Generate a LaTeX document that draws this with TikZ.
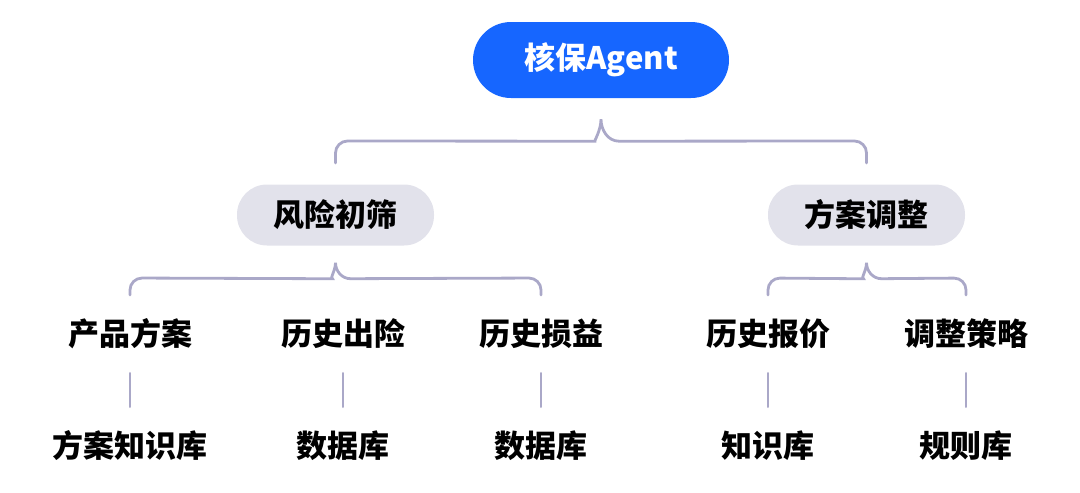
\documentclass[tikz,border=0pt]{standalone}
\usepackage{fontspec}
\setmainfont{Noto Sans CJK SC}
\usetikzlibrary{positioning,calc}
\definecolor{agent-blue}{RGB}{22,102,255}
\definecolor{pill-grey}{RGB}{226,226,235}
\definecolor{brace-lilac}{RGB}{170,168,200}

\begin{document}
\begin{tikzpicture}[x=1pt, y=-1pt, font=\bfseries\fontsize{31}{36}\selectfont,
	   root/.style={fill=agent-blue, text=white, rounded corners=38pt, minimum width=256pt, minimum height=76pt, inner sep=0pt},
	   pill/.style={fill=pill-grey, rounded corners=30pt, minimum width=197pt, minimum height=61pt, inner sep=0pt},
	   leaf/.style={inner sep=0pt, minimum height=34pt},
	   link/.style={draw=brace-lilac, line width=2.8pt, line cap=round}]
	  \useasboundingbox (0,0) rectangle (1080,493);
	  \node[root] (agent) at (601,60) {核保Agent};
	  \node[pill] (risk) at (335.5,215) {风险初筛};
	  \node[pill] (plan) at (866.5,215) {方案调整};
	  % third row
	  \node[leaf] (prod) at (130,334) {产品方案};
	  \node[leaf] (claim) at (343,334) {历史出险};
	  \node[leaf] (loss) at (541,334) {历史损益};
	  \node[leaf] (quote) at (768,334) {历史报价};
	  \node[leaf] (rule) at (966,334) {调整策略};
	  % bottom row
	  \node[leaf] (kb1) at (130,446) {方案知识库};
	  \node[leaf] (db1) at (343,446) {数据库};
	  \node[leaf] (db2) at (541,446) {数据库};
	  \node[leaf] (kb2) at (768,446) {知识库};
	  \node[leaf] (rb) at (966,446) {规则库};
	  % braces
	  \coordinate (t0) at ($(agent.south)+(0,21)$);
	  \draw[link] (risk.north |- 0,163) [rounded corners=12pt] -- (risk.north |- 0,141) -- ($(t0)+(-18,22)$) [sharp corners]
	    .. controls ($(t0)+(-7,22)$) and ($(t0)+(0,11)$) .. (t0)
	    .. controls ($(t0)+(0,11)$) and ($(t0)+(7,22)$) .. ($(t0)+(18,22)$) [rounded corners=12pt]
	    -- (plan.north |- 0,141) -- (plan.north |- 0,163);
	  \coordinate (t1) at ($(risk.south)+(0,17)$);
	  \draw[link] (prod.north |- 0,295) [rounded corners=12pt] -- (prod.north |- 0,278) -- ($(t1)+(-15,16)$) [sharp corners]
	    .. controls ($(t1)+(-6,16)$) and ($(t1)+(0,8)$) .. (t1)
	    .. controls ($(t1)+(0,8)$) and ($(t1)+(6,16)$) .. ($(t1)+(15,16)$) [rounded corners=12pt]
	    -- (loss.north |- 0,278) -- (loss.north |- 0,295);
	  \coordinate (t2) at ($(plan.south)+(0,17)$);
	  \draw[link] (quote.north |- 0,295) [rounded corners=12pt] -- (quote.north |- 0,278) -- ($(t2)+(-15,16)$) [sharp corners]
	    .. controls ($(t2)+(-6,16)$) and ($(t2)+(0,8)$) .. (t2)
	    .. controls ($(t2)+(0,8)$) and ($(t2)+(6,16)$) .. ($(t2)+(15,16)$) [rounded corners=12pt]
	    -- (rule.north |- 0,278) -- (rule.north |- 0,295);
	  % stems
	  \foreach \a/\b in {prod/kb1, claim/db1, loss/db2, quote/kb2, rule/rb}
	    \draw[link] ($(\a.south)+(0,22)$) -- ($(\b.north)+(0,-22)$);
	\end{tikzpicture}
\end{document}
